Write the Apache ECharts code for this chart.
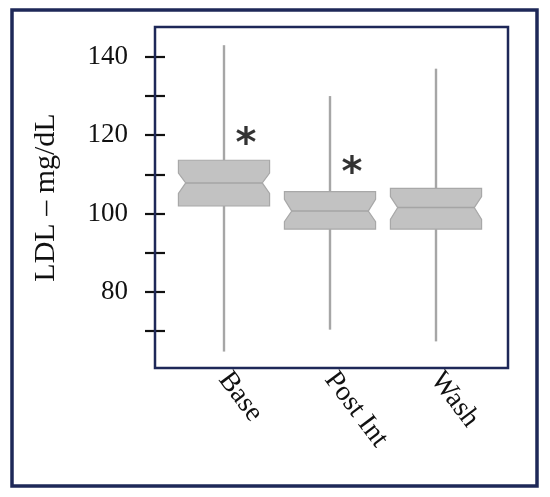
<!DOCTYPE html>
<html>
<head>
<meta charset="utf-8">
<script src="https://cdn.jsdelivr.net/npm/echarts@6/dist/echarts.min.js"></script>
<style>
html,body{margin:0;padding:0;background:#fff;}
#chart{width:550px;height:497px;}
</style>
</head>
<body>
<div id="chart"></div>
<script>
const categories = ['Base', 'Post Int', 'Wash'];
const whiskerLow = [64.7, 70.3, 67.3];
const q1 = [101.9, 96.0, 96.0];
const median = [107.8, 100.6, 101.5];
const q3 = [113.6, 105.6, 106.4];
const whiskerHigh = [143.0, 130.0, 137.0];
const notchLow = [105.1, 97.9, 98.5];
const notchHigh = [110.3, 103.6, 104.3];
const yTickValues = [70, 80, 90, 100, 110, 120, 130, 140];
const yLabelValues = [80, 100, 120, 140];
const sigCategories = ['Base', 'Post Int'];
const sigValues = [120.0, 112.4];

const navy = '#1e2858';
const boxData = categories.map((c, i) => [i, whiskerLow[i], q1[i], median[i], q3[i], whiskerHigh[i], notchLow[i], notchHigh[i]]);

function renderBox(params, api) {
  const i = api.value(0);
  const pLo = api.coord([i, api.value(1)]);
  const pQ1 = api.coord([i, api.value(2)]);
  const pMed = api.coord([i, api.value(3)]);
  const pQ3 = api.coord([i, api.value(4)]);
  const pHi = api.coord([i, api.value(5)]);
  const pNLo = api.coord([i, api.value(6)]);
  const pNHi = api.coord([i, api.value(7)]);
  const x = pMed[0];
  const band = api.size([1, 0])[0];
  const half = band * 0.86 / 2;
  const inset = band * 0.86 * 0.08;
  const poly = [
    [x - half, pQ3[1]], [x + half, pQ3[1]], [x + half, pNHi[1]], [x + half - inset, pMed[1]],
    [x + half, pNLo[1]], [x + half, pQ1[1]], [x - half, pQ1[1]], [x - half, pNLo[1]],
    [x - half + inset, pMed[1]], [x - half, pNHi[1]]
  ];
  const wStyle = { stroke: '#a6a6a6', lineWidth: 2.4 };
  return {
    type: 'group',
    children: [
      { type: 'line', shape: { x1: x, y1: pHi[1], x2: x, y2: pQ3[1] }, style: wStyle },
      { type: 'line', shape: { x1: x, y1: pQ1[1], x2: x, y2: pLo[1] }, style: wStyle },
      { type: 'polygon', shape: { points: poly }, style: { fill: '#c2c2c2', stroke: '#a8a8a8', lineWidth: 1.2 } },
      { type: 'line', shape: { x1: x - half + inset, y1: pMed[1], x2: x + half - inset, y2: pMed[1] }, style: { stroke: '#a5a5a5', lineWidth: 1.5 } }
    ]
  };
}

const chart = echarts.init(document.getElementById('chart'), null, { renderer: 'canvas' });
chart.setOption({
  animation: false,
  backgroundColor: '#ffffff',
  grid: { left: 171, top: 27, width: 318, height: 341, containLabel: false },
  xAxis: {
    type: 'category',
    data: categories,
    axisLine: { show: false },
    axisTick: { show: false },
    axisLabel: {
      rotate: -53,
      margin: 7,
      fontFamily: 'Liberation Serif',
      fontSize: 28,
      color: '#111111'
    }
  },
  yAxis: {
    type: 'value',
    min: 60.5,
    max: 147.65,
    offset: 6,
    name: 'LDL – mg/dL',
    nameLocation: 'middle',
    nameGap: 104,
    nameTextStyle: { fontFamily: 'Liberation Serif', fontSize: 30, color: '#111111' },
    splitLine: { show: false },
    axisLine: { show: false },
    axisTick: { show: true, length: 20, customValues: yTickValues, lineStyle: { color: '#111111', width: 2.2 } },
    axisLabel: { customValues: yLabelValues, margin: 37, fontFamily: 'Liberation Serif', fontSize: 27, color: '#111111' }
  },
  graphic: [
    { type: 'rect', shape: { x: 12, y: 10, width: 525, height: 476 }, style: { fill: 'none', stroke: navy, lineWidth: 3.5 }, z: 10 },
    { type: 'rect', shape: { x: 155, y: 27, width: 353, height: 341 }, style: { fill: 'none', stroke: navy, lineWidth: 2.5 }, z: 10 }
  ],
  series: [
    {
      type: 'custom',
      renderItem: renderBox,
      encode: { x: 0, y: [1, 2, 3, 4, 5, 6, 7] },
      data: boxData,
      z: 2
    },
    {
      type: 'scatter',
      symbolSize: 0,
      data: sigCategories.map((c, i) => [c, sigValues[i]]),
      label: {
        show: true,
        position: 'inside',
        formatter: '*',
        offset: [22, 10],
        fontFamily: 'DejaVu Sans',
        fontWeight: 'bold',
        fontSize: 40,
        color: '#000000'
      },
      z: 5
    }
  ]
});
</script>
</body>
</html>
